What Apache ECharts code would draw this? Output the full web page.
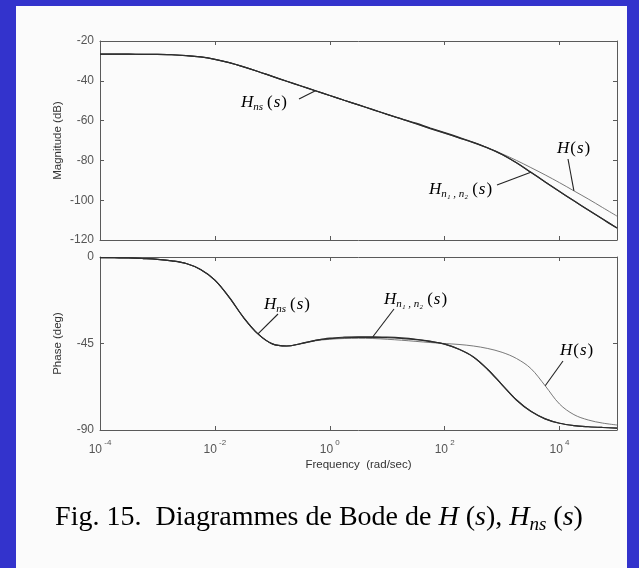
<!DOCTYPE html>
<html>
<head>
<meta charset="utf-8">
<script src="https://cdn.jsdelivr.net/npm/echarts@6/dist/echarts.min.js"></script>
<style>
  html, body { margin: 0; padding: 0; background: #3333cc; width: 639px; height: 568px; overflow: hidden; }
  #paper { position: absolute; left: 16px; top: 6px; width: 611px; height: 562px; background: #fbfbfb; }
  #chart { position: absolute; left: 0; top: 0; width: 639px; height: 568px; }
</style>
</head>
<body>
<div id="paper"></div>
<div id="chart"></div>
<script>
// log10 of frequency (rad/sec)
const freqExp = [-4, -3.75, -3.5, -3.25, -3, -2.75, -2.5, -2.25, -2, -1.75, -1.5, -1.25, -1, -0.75, -0.5, -0.25,
  0, 0.25, 0.5, 0.75, 1, 1.25, 1.5, 1.75, 2, 2.25, 2.5, 2.75, 3, 3.25, 3.5, 3.75, 4, 4.25, 4.5, 4.75, 5];

// Magnitude (dB)
const magHns = [-26.6, -26.6, -26.6, -26.7, -26.7, -26.9, -27.3, -28.0, -29.2, -30.9, -33.0, -35.3, -37.8, -40.2, -42.6, -45.0,
  -47.4, -49.8, -52.1, -54.5, -56.9, -59.2, -61.6, -64.0, -66.3, -68.7, -71.1, -73.8, -77.0, -81.2, -86.0, -90.8, -95.6, -100.3, -104.9, -109.5, -114.0];
const magHn12 = [-26.6, -26.6, -26.6, -26.7, -26.7, -26.9, -27.3, -28.0, -29.2, -30.9, -33.0, -35.3, -37.8, -40.2, -42.6, -45.0,
  -47.4, -49.8, -52.1, -54.5, -56.9, -59.1, -61.3, -63.7, -66.0, -68.4, -70.9, -73.7, -77.0, -81.2, -86.0, -90.8, -95.6, -100.3, -104.9, -109.5, -114.0];
const magH = [-26.6, -26.6, -26.6, -26.7, -26.7, -26.9, -27.3, -28.0, -29.2, -30.9, -33.0, -35.3, -37.8, -40.2, -42.6, -45.0,
  -47.4, -49.8, -52.1, -54.5, -56.9, -59.2, -61.6, -64.0, -66.3, -68.7, -71.1, -73.7, -76.7, -80.0, -83.6, -87.3, -91.2, -95.3, -99.4, -103.7, -108.0];

// Phase (deg)
const phaseHns = [-0.3, -0.4, -0.5, -0.8, -1.2, -2.0, -3.4, -6.5, -12.0, -21.0, -31.5, -40.0, -45.2, -46.3, -45.0, -43.4,
  -42.5, -42.0, -41.8, -41.8, -42.0, -42.4, -43.0, -44.0, -45.3, -48.0, -52.0, -58.5, -66.5, -74.4, -80.3, -84.2, -86.5, -87.7, -88.3, -88.7, -89.0];
const phaseHn12 = [-0.3, -0.4, -0.5, -0.8, -1.2, -2.0, -3.4, -6.5, -12.0, -21.0, -31.5, -40.0, -45.2, -46.3, -45.0, -43.4,
  -42.2, -41.7, -41.5, -41.5, -41.7, -42.1, -42.8, -43.8, -45.3, -48.0, -52.0, -58.5, -66.5, -74.4, -80.3, -84.2, -86.5, -87.7, -88.3, -88.7, -89.0];
const phaseH = [-0.3, -0.4, -0.5, -0.8, -1.2, -2.0, -3.4, -6.5, -12.0, -21.0, -31.5, -40.0, -45.2, -46.3, -45.2, -43.6,
  -42.8, -42.4, -42.3, -42.4, -42.8, -43.3, -43.9, -44.5, -45.0, -45.5, -46.3, -47.6, -49.6, -52.8, -58.0, -67.0, -76.5, -82.0, -84.8, -86.4, -87.4];

// Axis ranges and tick steps
const freqRange = [-4, 5], freqStep = 2;
const magRange = [-120, -20], magStep = 20;
const phaseRange = [-90, 0], phaseStep = 45;

const pairs = (ys) => freqExp.map((e, i) => [e, ys[i]]);

const sans = 'Liberation Sans, Arial, sans-serif';
const serif = 'Liberation Serif, Times New Roman, serif';
const axisColor = '#5a5a5a';
const labelColor = '#555';

function xAxisDef(grid, pos, withLabels) {
  return {
    type: 'value', gridIndex: grid, position: pos,
    min: freqRange[0], max: freqRange[1], interval: freqStep,
    axisLine: { show: true, onZero: false, lineStyle: { color: axisColor, width: 1 } },
    axisTick: { show: true, inside: true, length: 4, lineStyle: { color: axisColor } },
    splitLine: { show: false },
    axisLabel: withLabels ? {
      show: true, margin: 9, showMaxLabel: false,
      formatter: (v) => (v % 2 === 0 && v < freqRange[1]) ? '{b|10}{e| ' + v + '}' : '',
      rich: {
        b: { fontFamily: sans, fontSize: 12, color: labelColor, lineHeight: 17, verticalAlign: 'bottom' },
        e: { fontFamily: sans, fontSize: 8, color: labelColor, lineHeight: 9, verticalAlign: 'top' }
      }
    } : { show: false },
    name: withLabels ? 'Frequency  (rad/sec)' : '',
    nameLocation: 'middle', nameGap: 29,
    nameTextStyle: { fontFamily: sans, fontSize: 11.5, color: '#333' }
  };
}

function yAxisDef(grid, pos, range, step, name) {
  const left = pos === 'left';
  return {
    type: 'value', gridIndex: grid, position: pos,
    min: range[0], max: range[1], interval: step,
    axisLine: { show: true, onZero: false, lineStyle: { color: axisColor, width: 1 } },
    axisTick: { show: true, inside: true, length: 4, lineStyle: { color: axisColor } },
    splitLine: { show: false },
    axisLabel: left ? { show: true, margin: 6, fontFamily: sans, fontSize: 12, color: labelColor } : { show: false },
    name: left ? name : '',
    nameLocation: 'middle', nameGap: 36, nameRotate: 90, nameMoveOverlap: false,
    nameTextStyle: { fontFamily: sans, fontSize: 11.5, color: '#333' }
  };
}

const darkLine = { color: '#2e2e2e', width: 1.2 };
const lightLine = { color: '#6a6a6a', width: 0.9 };

function line(name, xi, yi, data, style, z) {
  return { name, type: 'line', xAxisIndex: xi, yAxisIndex: yi, data, smooth: 0.35,
    showSymbol: false, symbol: 'none', lineStyle: style, z, silent: true, animation: false };
}

const chart = echarts.init(document.getElementById('chart'), null, { renderer: 'canvas' });

chart.setOption({
  animation: false,
  backgroundColor: 'transparent',
  grid: [
    { left: 100, top: 41, width: 517, height: 199 },
    { left: 100, top: 257, width: 517, height: 173 }
  ],
  xAxis: [
    xAxisDef(0, 'bottom', false), xAxisDef(0, 'top', false),
    xAxisDef(1, 'bottom', true), xAxisDef(1, 'top', false)
  ],
  yAxis: [
    yAxisDef(0, 'left', magRange, magStep, 'Magnitude (dB)'), yAxisDef(0, 'right', magRange, magStep, ''),
    yAxisDef(1, 'left', phaseRange, phaseStep, 'Phase (deg)'), yAxisDef(1, 'right', phaseRange, phaseStep, '')
  ],
  series: [
    line('H(s)', 0, 0, pairs(magH), lightLine, 3),
    line('Hns(s)', 0, 0, pairs(magHns), darkLine, 4),
    line('Hn1,n2(s)', 0, 0, pairs(magHn12), darkLine, 4),
    line('H(s)', 2, 2, pairs(phaseH), lightLine, 3),
    line('Hns(s)', 2, 2, pairs(phaseHns), darkLine, 4),
    line('Hn1,n2(s)', 2, 2, pairs(phaseHn12), darkLine, 4)
  ]
});

// Math-style labels with leader lines pointing at the curves
const mathRich = {
  i: { fontFamily: serif, fontStyle: 'italic', fontSize: 17, color: '#111', lineHeight: 20, verticalAlign: 'middle' },
  n: { fontFamily: serif, fontSize: 17, color: '#111', lineHeight: 20, verticalAlign: 'middle', padding: [0, 1, 0, 1] },
  sub: { fontFamily: serif, fontStyle: 'italic', fontSize: 11, color: '#111', lineHeight: 12, verticalAlign: 'bottom', padding: [0, 3, 0, 0] }
};
const txtHns = '{i|H}{sub|ns}{n|(}{i|s}{n|)}';
const txtH = '{i|H}{n|(}{i|s}{n|)}';
const txtHn12 = '{i|H}{sub|n\u2081 , n\u2082}{n|(}{i|s}{n|)}';

function anchor(grid, idx, ys) {
  return chart.convertToPixel({ gridIndex: grid }, [freqExp[idx], ys[idx]]);
}

const notes = [
  { text: txtHns, tx: 241, ty: 103, from: [299, 99], to: anchor(0, 15, magHns) },
  { text: txtH, tx: 557, ty: 149, from: [568, 159], to: anchor(0, 33, magH) },
  { text: txtHn12, tx: 429, ty: 190, from: [497, 185], to: anchor(0, 30, magHn12) },
  { text: txtHns, tx: 264, ty: 305, from: [278, 314], to: anchor(1, 11, phaseHns) },
  { text: txtHn12, tx: 384, ty: 300, from: [394, 309], to: anchor(1, 19, phaseHn12) },
  { text: txtH, tx: 560, ty: 351, from: [563, 361], to: anchor(1, 31, phaseH) }
];

const graphics = [];
notes.forEach((n) => {
  graphics.push({ type: 'text', x: n.tx, y: n.ty, z: 10, silent: true,
    style: { text: n.text, rich: mathRich, verticalAlign: 'middle', align: 'left' } });
  graphics.push({ type: 'line', z: 10, silent: true,
    shape: { x1: n.from[0], y1: n.from[1], x2: n.to[0], y2: n.to[1] },
    style: { stroke: '#222', lineWidth: 1.1 } });
});

// Figure caption
graphics.push({
  type: 'text', x: 319, y: 518, z: 10, silent: true,
  style: {
    text: '{n|Fig. 15.  Diagrammes de Bode de }{i|H}{n| (}{i|s}{n|), }{i|H}{sub|ns}{n| (}{i|s}{n|)}',
    align: 'center', verticalAlign: 'middle',
    rich: {
      n: { fontFamily: serif, fontSize: 28, color: '#111', lineHeight: 32, verticalAlign: 'middle' },
      i: { fontFamily: serif, fontStyle: 'italic', fontSize: 28, color: '#111', lineHeight: 32, verticalAlign: 'middle' },
      sub: { fontFamily: serif, fontStyle: 'italic', fontSize: 19, color: '#111', lineHeight: 20, verticalAlign: 'bottom' }
    }
  }
});

chart.setOption({ graphic: { elements: graphics } });
</script>
</body>
</html>
